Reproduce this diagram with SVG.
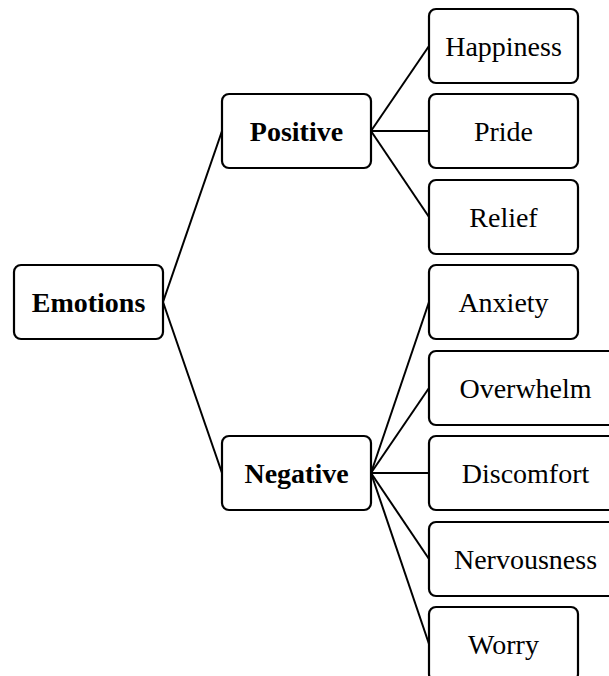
<svg xmlns="http://www.w3.org/2000/svg" width="609" height="676" viewBox="0 0 609 676">
<style>
.box{fill:#fff;stroke:#000;stroke-width:2.2}
.t{font-family:"Liberation Serif","Times New Roman",serif;font-size:28px;text-anchor:middle;fill:#000}
.b{font-weight:bold}
.c line{stroke:#000;stroke-width:2}
</style>
<rect width="609" height="676" fill="#fff"/>
<g class="c" id="connectors">
<line x1="163" y1="302" x2="222" y2="131"/>
<line x1="163" y1="302" x2="222" y2="473"/>
<line x1="371" y1="131" x2="429" y2="46"/>
<line x1="371" y1="131" x2="429" y2="131"/>
<line x1="371" y1="131" x2="429" y2="217"/>
<line x1="371" y1="473" x2="429" y2="302"/>
<line x1="371" y1="473" x2="429" y2="388"/>
<line x1="371" y1="473" x2="429" y2="473"/>
<line x1="371" y1="473" x2="429" y2="559"/>
<line x1="371" y1="473" x2="429" y2="644"/>
</g>
<g id="emotions"><rect class="box" x="14" y="265" width="149" height="74" rx="7"/><text class="t b" x="88.5" y="311.5">Emotions</text></g>
<g id="positive"><rect class="box" x="222" y="94" width="149" height="74" rx="7"/><text class="t b" x="296.5" y="140.5">Positive</text></g>
<g id="negative"><rect class="box" x="222" y="436" width="149" height="74" rx="7"/><text class="t b" x="296.5" y="482.5">Negative</text></g>
<g id="happiness"><rect class="box" x="429" y="9" width="149" height="74" rx="7"/><text class="t" x="503.5" y="55.5">Happiness</text></g>
<g id="pride"><rect class="box" x="429" y="94" width="149" height="74" rx="7"/><text class="t" x="503.5" y="140.5">Pride</text></g>
<g id="relief"><rect class="box" x="429" y="180" width="149" height="74" rx="7"/><text class="t" x="503.5" y="226.5">Relief</text></g>
<g id="anxiety"><rect class="box" x="429" y="265" width="149" height="74" rx="7"/><text class="t" x="503.5" y="311.5">Anxiety</text></g>
<g id="overwhelm"><rect class="box" x="429" y="351" width="193" height="74" rx="7"/><text class="t" x="525.5" y="397.5">Overwhelm</text></g>
<g id="discomfort"><rect class="box" x="429" y="436" width="193" height="74" rx="7"/><text class="t" x="525.5" y="482.5">Discomfort</text></g>
<g id="nervousness"><rect class="box" x="429" y="522" width="193" height="74" rx="7"/><text class="t" x="525.5" y="568.5">Nervousness</text></g>
<g id="worry"><rect class="box" x="429" y="607" width="149" height="74" rx="7"/><text class="t" x="503.5" y="653.5">Worry</text></g>
</svg>
